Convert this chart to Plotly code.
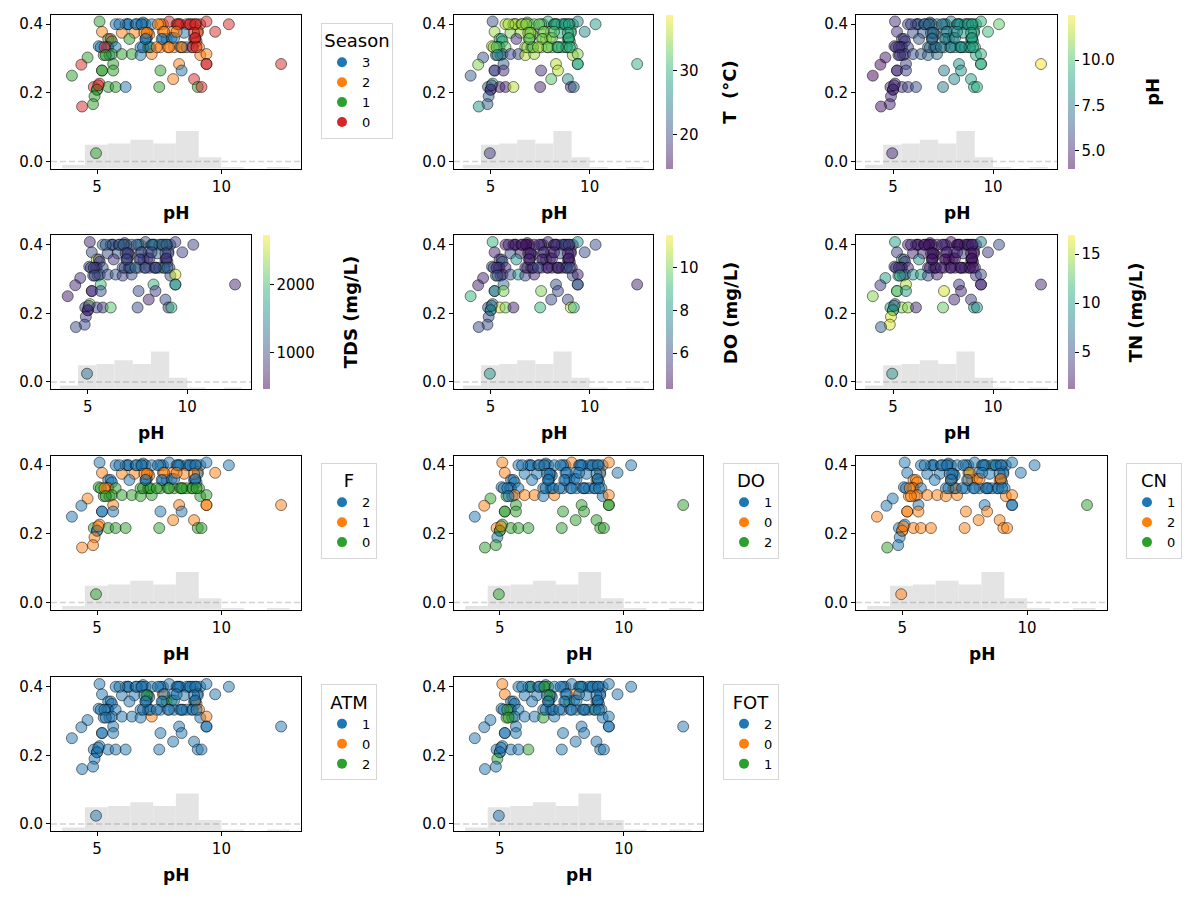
import numpy as np
import plotly.graph_objects as go
import plotly.colors as pc

# ---------------- data ----------------
ph = [5.10, 5.75, 6.15, 6.25, 6.25, 6.75, 6.85, 6.95, 7.20, 7.65,
      7.90, 8.20, 8.30, 8.35, 8.70, 8.85, 9.00, 9.15, 9.40, 10.30,
      6.55, 7.55, 8.60, 5.20, 6.00, 6.50, 7.05, 7.10, 7.65, 8.05,
      8.50, 9.05, 9.75, 9.05, 5.45, 5.55, 5.60, 6.30, 6.95, 7.00,
      7.65, 7.80, 8.00, 8.90, 8.95, 9.00, 5.07, 5.40, 5.45, 5.75,
      6.75, 7.05, 7.10, 7.55, 8.10, 8.35, 8.45, 8.80, 9.10, 7.85,
      5.27, 5.50, 5.60, 6.00, 6.40, 6.75, 7.20, 9.15, 9.40, 4.62,
      4.37, 5.65, 8.30, 9.40, 9.40, 12.40, 5.20, 5.20, 5.65, 7.55,
      8.40, 3.99, 8.06, 8.90, 4.87, 5.10, 5.45, 5.75, 6.15, 7.50,
      9.05, 9.20, 5.00, 5.00, 4.90, 4.84, 4.40, 4.96, 5.15, 5.30,
      5.05, 5.35, 5.90, 6.60, 6.80, 6.90, 7.00, 6.85, 7.15, 6.95,
      7.45, 7.70, 7.60, 7.90, 7.40, 8.10, 8.25, 8.75, 8.95, 8.90,
      8.60, 8.85, 8.95, 8.20, 8.40, 9.00]

ratio = [0.408, 0.400, 0.400, 0.400, 0.400, 0.400, 0.405, 0.400, 0.400, 0.400,
         0.408, 0.400, 0.400, 0.400, 0.400, 0.400, 0.400, 0.400, 0.408, 0.400,
         0.400, 0.400, 0.400, 0.378, 0.375, 0.375, 0.375, 0.370, 0.378, 0.378,
         0.375, 0.380, 0.378, 0.375, 0.357, 0.357, 0.350, 0.357, 0.357, 0.360,
         0.357, 0.357, 0.360, 0.357, 0.357, 0.350, 0.336, 0.333, 0.333, 0.333,
         0.333, 0.333, 0.333, 0.333, 0.333, 0.333, 0.333, 0.333, 0.333, 0.333,
         0.310, 0.310, 0.313, 0.313, 0.313, 0.310, 0.313, 0.310, 0.313, 0.303,
         0.282, 0.284, 0.284, 0.284, 0.284, 0.284, 0.265, 0.265, 0.265, 0.265,
         0.265, 0.250, 0.240, 0.240, 0.217, 0.227, 0.217, 0.217, 0.217, 0.217,
         0.217, 0.217, 0.209, 0.209, 0.190, 0.167, 0.160, 0.024, 0.333, 0.333,
         0.222, 0.310, 0.400, 0.400, 0.400, 0.375, 0.375, 0.333, 0.333, 0.357,
         0.400, 0.378, 0.357, 0.333, 0.333, 0.360, 0.400, 0.400, 0.400, 0.375,
         0.333, 0.333, 0.360, 0.378, 0.333, 0.333]

season = [1, 3, 3, 3, 3, 3, 3, 3, 3, 2,
          0, 0, 0, 0, 0, 0, 0, 0, 0, 0,
          3, 2, 0, 2, 2, 2, 2, 2, 2, 2,
          3, 2, 0, 0, 1, 0, 1, 1, 3, 3,
          3, 3, 3, 0, 0, 0, 3, 0, 3, 3,
          3, 1, 1, 2, 2, 3, 2, 0, 2, 2,
          1, 3, 1, 1, 1, 3, 2, 2, 2, 1,
          0, 1, 2, 0, 0, 0, 1, 1, 1, 1,
          3, 1, 2, 0, 0, 0, 1, 1, 3, 1,
          1, 0, 1, 1, 1, 1, 0, 1, 3, 0,
          0, 1, 3, 3, 3, 2, 2, 3, 3, 3,
          2, 2, 3, 2, 2, 3, 0, 0, 0, 0,
          3, 0, 0, 2, 2, 0]

temp = [21, 36, 37, 36, 35, 34, 33, 35, 32, 31,
        30, 29, 28, 29, 29, 28, 29, 30, 26, 28,
        33, 32, 31, 35, 34, 35, 36, 34, 33, 32,
        30, 31, 26, 30, 31, 29, 30, 18, 34, 33,
        35, 36, 35, 29, 30, 30, 36, 30, 31, 33,
        35, 20, 33, 35, 33, 32, 31, 30, 30, 34,
        20, 21, 24, 20, 20, 36, 35, 35, 34, 21,
        34, 22, 36, 29, 30, 30, 19, 20, 18, 18,
        36, 22, 32, 27, 22, 30, 17, 17, 36, 17,
        17, 23, 17, 18, 22, 22, 27, 19, 35, 32,
        20, 28, 35, 36, 34, 35, 34, 34, 33, 33,
        33, 34, 33, 33, 35, 33, 29, 28, 29, 29,
        30, 29, 30, 32, 31, 30]

tds = [700, 1200, 1100, 1000, 1100, 1200, 1000, 900, 1100, 2000,
       1000, 1300, 1200, 1400, 2000, 1300, 1100, 1000, 900, 900,
       1100, 1200, 1300, 1000, 1000, 1100, 1000, 900, 1100, 1000,
       1200, 1000, 900, 1000, 2500, 800, 900, 800, 1300, 1000,
       900, 1000, 800, 700, 800, 900, 900, 1000, 800, 1000,
       1100, 1000, 1200, 1100, 900, 800, 1000, 1500, 1100, 1000,
       1000, 900, 1100, 1000, 1100, 900, 1000, 1100, 2600, 800,
       700, 2000, 1900, 1500, 1600, 700, 700, 800, 1000, 1000,
       900, 600, 700, 1000, 900, 2300, 1000, 800, 2100, 1000,
       900, 1900, 700, 600, 900, 1000, 1000, 1300, 1000, 800,
       900, 1000, 1100, 1000, 1200, 1000, 900, 1000, 1100, 900,
       1100, 1000, 900, 1000, 1200, 800, 1200, 1100, 1200, 1000,
       900, 1300, 800, 1000, 1000, 1100]

do_mgl = [9, 5, 4.5, 4.6, 5, 5, 5, 4.5, 5, 6,
          5, 6, 7, 5, 9, 6, 5, 5, 8, 6,
          5, 5, 6, 5, 6, 5, 5, 5, 6, 5,
          6, 5, 6, 5, 6, 5, 7, 8, 5, 6,
          5, 6, 5, 6, 5, 5, 6, 6, 6, 5,
          5, 9, 6, 5, 5, 5, 6, 6, 5, 5,
          7, 6, 5, 6, 8, 6, 5, 6, 5, 5,
          5, 7, 6, 7, 6, 5, 8, 7, 10, 10,
          6, 9, 6, 6, 6, 7, 11, 10, 5, 9,
          11, 9, 8, 8, 6, 6, 6, 8, 6, 5,
          7, 6, 5, 5, 4.5, 5, 5, 5, 5, 5,
          5, 5, 5, 5, 6, 5, 5, 5, 6, 5,
          5, 6, 5, 5, 5, 6]

tn = [10, 3, 2, 2, 3, 2, 2, 2, 3, 3,
      2, 2, 2, 3, 4, 3, 2, 3, 8, 5,
      3, 3, 3, 4, 3, 3, 2, 2, 2, 2,
      4, 3, 4, 2, 12, 4, 5, 9, 2, 3,
      2, 2, 2, 2, 3, 2, 4, 3, 4, 3,
      3, 11, 3, 2, 2, 3, 2, 2, 3, 3,
      9, 5, 6, 9, 10, 5, 3, 4, 5, 10,
      4, 15, 4, 3, 3, 3, 12, 13, 10, 16,
      3, 14, 3, 4, 10, 5, 14, 14, 3, 13,
      9, 9, 12, 11, 16, 16, 6, 9, 3, 4,
      8, 11, 3, 2, 2, 3, 2, 3, 2, 2,
      3, 3, 2, 2, 3, 2, 2, 2, 3, 2,
      2, 3, 2, 3, 3, 2]

f_cls = [2, 2, 2, 2, 2, 2, 2, 2, 2, 2,
         2, 2, 2, 2, 2, 2, 2, 2, 2, 2,
         2, 2, 2, 1, 1, 1, 1, 1, 1, 1,
         1, 1, 1, 2, 2, 2, 2, 2, 2, 2,
         2, 2, 2, 2, 2, 2, 0, 1, 1, 0,
         0, 0, 0, 0, 0, 0, 0, 0, 0, 0,
         0, 0, 0, 0, 0, 0, 0, 0, 0, 1,
         2, 1, 1, 1, 1, 1, 2, 2, 2, 2,
         2, 2, 1, 1, 0, 1, 0, 0, 0, 0,
         0, 0, 2, 2, 1, 1, 1, 0, 0, 1,
         1, 0, 2, 2, 2, 1, 1, 0, 0, 2,
         2, 1, 2, 0, 0, 2, 2, 2, 2, 1,
         0, 0, 2, 1, 0, 0]

do_cls = [0, 1, 1, 1, 1, 0, 1, 1, 1, 1,
          0, 1, 1, 1, 1, 1, 1, 1, 0, 1,
          1, 1, 1, 0, 1, 1, 1, 1, 1, 1,
          1, 0, 1, 1, 1, 1, 1, 1, 1, 1,
          1, 1, 1, 0, 1, 1, 1, 1, 1, 1,
          1, 1, 1, 1, 1, 1, 1, 1, 1, 1,
          2, 1, 0, 0, 0, 1, 0, 1, 0, 2,
          0, 2, 2, 2, 2, 2, 2, 2, 2, 2,
          2, 1, 2, 2, 0, 2, 2, 2, 2, 2,
          2, 2, 2, 2, 1, 2, 2, 2, 1, 1,
          0, 1, 1, 1, 1, 1, 1, 1, 1, 1,
          1, 1, 1, 1, 1, 1, 1, 1, 1, 1,
          1, 1, 1, 1, 1, 1]

cn_cls = [1, 1, 1, 1, 1, 1, 1, 1, 1, 1,
          1, 1, 1, 1, 0, 1, 1, 1, 1, 1,
          1, 1, 1, 1, 1, 1, 1, 1, 0, 1,
          1, 1, 1, 1, 2, 2, 2, 1, 2, 1,
          2, 2, 2, 2, 2, 1, 1, 2, 2, 1,
          1, 2, 2, 1, 1, 1, 1, 1, 1, 1,
          2, 2, 2, 2, 2, 2, 2, 2, 2, 1,
          1, 1, 1, 1, 1, 0, 2, 2, 2, 2,
          2, 2, 2, 2, 1, 1, 2, 2, 2, 2,
          2, 2, 2, 2, 1, 1, 0, 2, 1, 2,
          2, 2, 1, 1, 1, 1, 1, 1, 1, 1,
          1, 2, 1, 1, 1, 2, 1, 1, 1, 1,
          1, 1, 2, 1, 1, 1]

atm_cls = [1, 1, 1, 1, 1, 1, 1, 1, 1, 1,
           1, 1, 1, 1, 1, 1, 1, 1, 1, 1,
           1, 1, 1, 1, 1, 1, 2, 1, 0, 1,
           1, 1, 1, 1, 1, 1, 1, 1, 1, 1,
           1, 2, 2, 1, 1, 0, 1, 1, 1, 1,
           1, 1, 1, 1, 1, 1, 1, 1, 0, 1,
           1, 1, 1, 1, 1, 1, 0, 1, 0, 1,
           1, 1, 1, 1, 1, 1, 1, 1, 1, 1,
           1, 1, 1, 1, 1, 1, 1, 1, 1, 1,
           1, 1, 1, 1, 1, 1, 1, 1, 1, 1,
           1, 1, 1, 1, 1, 1, 2, 1, 1, 1,
           1, 1, 1, 1, 1, 1, 1, 1, 1, 1,
           1, 1, 1, 1, 1, 1]

fot_cls = [0, 2, 2, 1, 2, 1, 2, 1, 2, 2,
           2, 2, 1, 2, 2, 2, 2, 2, 2, 2,
           2, 2, 2, 0, 2, 2, 2, 2, 2, 0,
           2, 2, 2, 2, 2, 2, 2, 2, 1, 2,
           2, 1, 2, 2, 2, 2, 2, 1, 2, 2,
           2, 2, 2, 2, 2, 2, 2, 1, 2, 2,
           1, 1, 2, 2, 2, 1, 2, 2, 2, 2,
           2, 2, 2, 2, 2, 2, 2, 2, 2, 2,
           2, 2, 2, 2, 2, 2, 2, 2, 1, 2,
           2, 2, 2, 2, 1, 2, 2, 2, 2, 1,
           2, 1, 2, 2, 1, 2, 1, 2, 2, 2,
           2, 2, 2, 2, 2, 2, 2, 2, 2, 2,
           2, 2, 2, 2, 2, 2]

# pH histogram drawn under every panel
hist_edges = [3.60, 4.51, 5.43, 6.34, 7.26, 8.17, 9.09, 10.00, 10.91, 11.83, 12.74]
hist_scale = 0.00365

# category order as shown in each legend
season_order = [3, 2, 1, 0]
f_order = [2, 1, 0]
do_order = [1, 0, 2]
cn_order = [1, 2, 0]
atm_order = [1, 0, 2]
fot_order = [2, 0, 1]

for arr in [ratio, season, temp, tds, do_mgl, tn, f_cls, do_cls, cn_cls, atm_cls, fot_cls]:
    assert len(arr) == len(ph), len(arr)

# ---------------- styling / layout ----------------
W, H = 1200, 900
FONT = "DejaVu Sans"
TAB = ['#1f77b4', '#ff7f0e', '#2ca02c', '#d62728']
YR = [-0.021, 0.427]
XR = [3.15, 13.2]
MSIZE = 11


def hex_rgba(h, a):
    h = h.lstrip('#')
    return f"rgba({int(h[0:2], 16)},{int(h[2:4], 16)},{int(h[4:6], 16)},{a})"


vir = pc.sequential.Viridis
vir_scale = [[i / (len(vir) - 1), hex_rgba(c, 0.5)] for i, c in enumerate(vir)]

# panel boxes in pixels: (left, right, top, bottom)
boxes = {1: (51, 301, 15, 169), 2: (454, 653, 15, 169), 3: (856, 1057, 15, 169),
         4: (51, 251, 236, 390), 5: (454, 653, 236, 390), 6: (856, 1057, 236, 390),
         7: (51, 301, 457, 611), 8: (454, 703, 457, 611), 9: (856, 1107, 457, 611),
         10: (51, 301, 679, 833), 11: (454, 703, 679, 833)}


def px(x):
    return x / W


def py(y):
    return 1 - y / H


cat_panels = {1: ('Season', season, season_order, 'legend', (321, 23)),
              7: ('F', f_cls, f_order, 'legend2', (321, 464)),
              8: ('DO', do_cls, do_order, 'legend3', (723, 464)),
              9: ('CN', cn_cls, cn_order, 'legend4', (1126, 464)),
              10: ('ATM', atm_cls, atm_order, 'legend5', (321, 686)),
              11: ('FOT', fot_cls, fot_order, 'legend6', (723, 686))}

cont_panels = {2: ('T  (°C)', temp, (14.6, 38.7), [20, 30], ['20', '30'], 666, 730),
               3: ('pH', ph, (3.99, 12.5), [5, 7.5, 10], ['5.0', '7.5', '10.0'], 1068, 1153),
               4: ('TDS (mg/L)', tds, (450, 2730), [1000, 2000], ['1000', '2000'], 263, 350),
               5: ('DO (mg/L)', do_mgl, (4.3, 11.5), [6, 8, 10], ['6', '8', '10'], 666, 730),
               6: ('TN (mg/L)', tn, (1.2, 16.9), [5, 10, 15], ['5', '10', '15'], 1068, 1135)}

counts, edges = np.histogram(ph, bins=hist_edges)
centers = (edges[:-1] + edges[1:]) / 2
widths = np.diff(edges)

fig = go.Figure()
layout = dict(width=W, height=H, margin=dict(l=0, r=0, t=0, b=0),
              paper_bgcolor='white', plot_bgcolor='white',
              font=dict(family=FONT, color='black'), showlegend=True)
annotations = []

for i in range(1, 12):
    l, r, t, b = boxes[i]
    xa = 'x' if i == 1 else f'x{i}'
    ya = 'y' if i == 1 else f'y{i}'
    xk = 'xaxis' if i == 1 else f'xaxis{i}'
    yk = 'yaxis' if i == 1 else f'yaxis{i}'
    axis_common = dict(showgrid=False, zeroline=False, showline=True, mirror=True,
                       linecolor='black', linewidth=1, ticks='outside', ticklen=4,
                       tickwidth=1, tickcolor='black', tickfont=dict(size=15, family=FONT))
    layout[xk] = dict(domain=[px(l), px(r)], anchor=ya, range=XR, tickvals=[5, 10], **axis_common)
    layout[yk] = dict(domain=[py(b), py(t)], anchor=xa, range=YR, tickvals=[0, 0.2, 0.4],
                      tickformat='.1f', **axis_common)

    # histogram of pH
    fig.add_trace(go.Bar(x=centers, y=counts * hist_scale, base=YR[0], width=widths,
                         marker=dict(color='#e4e4e4', line=dict(width=0)),
                         xaxis=xa, yaxis=ya, showlegend=False, hoverinfo='skip'))
    # dashed zero line
    fig.add_trace(go.Scatter(x=XR, y=[0, 0], mode='lines',
                             line=dict(color='rgba(128,128,128,0.35)', width=1.5, dash='6px,3px'),
                             xaxis=xa, yaxis=ya, showlegend=False, hoverinfo='skip'))

    if i in cat_panels:
        name, vals, order, leg, (lx, ly) = cat_panels[i]
        cmap = {c: TAB[k] for k, c in enumerate(order)}
        colors = [hex_rgba(cmap[v], 0.5) for v in vals]
        fig.add_trace(go.Scatter(x=ph, y=ratio, mode='markers',
                                 marker=dict(size=MSIZE, color=colors,
                                             line=dict(color='rgba(0,0,0,0.5)', width=1)),
                                 xaxis=xa, yaxis=ya, showlegend=False))
        for c in order:
            fig.add_trace(go.Scatter(x=[None], y=[None], mode='markers', name=str(c),
                                     marker=dict(size=10, color=cmap[c]),
                                     xaxis=xa, yaxis=ya, legend=leg, showlegend=True))
        layout[leg] = dict(x=px(lx), y=py(ly), xanchor='left', yanchor='top',
                           bgcolor='white', bordercolor='#d6d6d6', borderwidth=1,
                           font=dict(size=13, family=FONT),
                           title=dict(text=name, font=dict(size=18, family=FONT), side='top center'),
                           itemwidth=30, tracegroupgap=0)
    else:
        title, vals, (cmin, cmax), tv, tt, cbx, ttx = cont_panels[i]
        fig.add_trace(go.Scatter(
            x=ph, y=ratio, mode='markers',
            marker=dict(size=MSIZE, color=vals, colorscale=vir_scale, cmin=cmin, cmax=cmax,
                        line=dict(color='rgba(0,0,0,0.5)', width=1), showscale=True,
                        colorbar=dict(x=px(cbx), xanchor='left', xpad=0,
                                      y=py(t), yanchor='top', ypad=0,
                                      len=b - t, lenmode='pixels',
                                      thickness=7, thicknessmode='pixels',
                                      outlinewidth=0, ticks='outside', ticklen=4,
                                      tickwidth=1, tickcolor='black',
                                      tickvals=tv, ticktext=tt,
                                      tickfont=dict(size=15, family=FONT))),
            xaxis=xa, yaxis=ya, showlegend=False))
        annotations.append(dict(x=px(ttx), y=py((t + b) / 2), xref='paper', yref='paper',
                                text=f'<b>{title}</b>', showarrow=False, textangle=-90,
                                xanchor='center', yanchor='middle',
                                font=dict(size=18, family=FONT)))

    # x axis label
    annotations.append(dict(x=px((l + r) / 2), y=py(b + 44), xref='paper', yref='paper',
                            text='<b>pH</b>', showarrow=False, xanchor='center',
                            yanchor='middle', font=dict(size=17, family=FONT)))

layout['annotations'] = annotations
fig.update_layout(**layout)
fig.write_html("out.html")
